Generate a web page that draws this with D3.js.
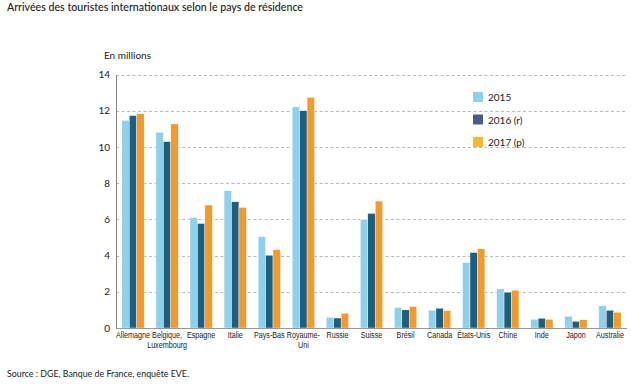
<!DOCTYPE html>
<html><head><meta charset="utf-8">
<script src="https://cdn.jsdelivr.net/npm/d3@7"></script>
<style>
body{margin:0;background:#fff;}
svg{display:block;font-family:"Lato",sans-serif;}
</style></head>
<body><svg id="c" width="631" height="390"></svg>
<script>
const categories = ["Allemagne","Belgique,\nLuxembourg","Espagne","Italie","Pays-Bas","Royaume-\nUni","Russie","Suisse","Brésil","Canada","États-Unis","Chine","Inde","Japon","Australie"];
const series = ["2015","2016 (r)","2017 (p)"];
const v2015 = [11.47,10.81,6.1,7.58,5.04,12.21,0.59,5.98,1.13,0.98,3.6,2.16,0.48,0.65,1.22];
const v2016 = [11.73,10.29,5.77,6.97,4.02,12.0,0.55,6.33,1.0,1.09,4.17,1.98,0.54,0.37,0.98];
const v2017 = [11.83,11.27,6.79,6.66,4.33,12.73,0.81,7.01,1.18,0.96,4.37,2.09,0.48,0.46,0.87];
const yTicks = [0,2,4,6,8,10,12,14];
const title = "Arrivées des touristes internationaux selon le pays de résidence";
const unit = "En millions";
const source = "Source : DGE, Banque de France, enquête EVE.";

const barColors = ["#8fd0ea","#1e5f80","#f49a2c"];
const legendColors = ["#8fd0ea","#4a5d86","#fbb733"];
const values = [v2015,v2016,v2017];

const svg = d3.select("#c");
const x0 = 116, x1 = 627, yTop = 74.5, yBot = 328;
const x = d3.scaleBand().domain(categories).range([x0,x1]).paddingInner(0.345).paddingOuter(0.172);
const xs = d3.scaleBand().domain(series).range([0,x.bandwidth()]);
const y = d3.scaleLinear().domain([0,14]).range([yBot,yTop]);

svg.append("text").attr("x",7).attr("y",11).attr("font-size",10.5).attr("font-weight",500).attr("fill","#222")
  .attr("textLength",296).attr("lengthAdjust","spacingAndGlyphs").text(title);
svg.append("text").attr("x",104).attr("y",59).attr("font-size",10).attr("fill","#222")
  .attr("textLength",47).attr("lengthAdjust","spacingAndGlyphs").text(unit);

// grid
svg.append("g").selectAll("line").data(yTicks.filter(d=>d>0)).join("line")
  .attr("x1",x0).attr("x2",627).attr("y1",d=>Math.round(y(d))+0.5).attr("y2",d=>Math.round(y(d))+0.5)
  .attr("stroke","#a8a8a8").attr("stroke-width",0.8).attr("stroke-dasharray","3,2.5");

// bars
const g = svg.append("g");
categories.forEach((c,i)=>{
  series.forEach((s,j)=>{
    const v = values[j][i];
    g.append("rect").attr("x",x(c)+xs(s)).attr("y",y(v)).attr("width",xs.bandwidth()).attr("height",yBot-y(v))
      .attr("fill",barColors[j]).attr("stroke","#fff").attr("stroke-width",0.4);
  });
});

// axes
const ya = svg.append("g").attr("transform",`translate(${x0},0)`).call(d3.axisLeft(y).tickValues(yTicks).tickSize(0).tickPadding(6));
ya.select(".domain").attr("stroke","#888").attr("stroke-width",1);
ya.selectAll("text").attr("font-family","Lato, sans-serif").attr("font-size",10).attr("fill","#222");
svg.append("line").attr("x1",x0).attr("x2",627).attr("y1",yBot+0.5).attr("y2",yBot+0.5).attr("stroke","#999").attr("stroke-width",1);

const xa = svg.append("g").attr("transform",`translate(0,${yBot})`).call(d3.axisBottom(x).tickSize(0).tickFormat(""));
xa.select(".domain").remove();
xa.selectAll(".tick").each(function(d){
  const lines = d.split("\n");
  const t = d3.select(this).append("text").attr("fill","#222").attr("font-size",9).attr("text-anchor","middle")
    .attr("transform","scale(0.8,1)");
  lines.forEach((l,k)=>t.append("tspan").attr("x",0).attr("y",10+k*10).text(l));
});

// legend
const lg = svg.append("g").attr("transform","translate(473,92)");
series.forEach((s,j)=>{
  lg.append("rect").attr("x",0).attr("y",j*22.5).attr("width",10).attr("height",10).attr("fill",legendColors[j]);
  lg.append("text").attr("x",15).attr("y",j*22.5+9).attr("font-size",10).attr("fill","#222").text(s);
});

svg.append("text").attr("x",7).attr("y",377).attr("font-size",9.5).attr("fill","#222")
  .attr("textLength",182).attr("lengthAdjust","spacingAndGlyphs").text(source);
</script></body></html>
